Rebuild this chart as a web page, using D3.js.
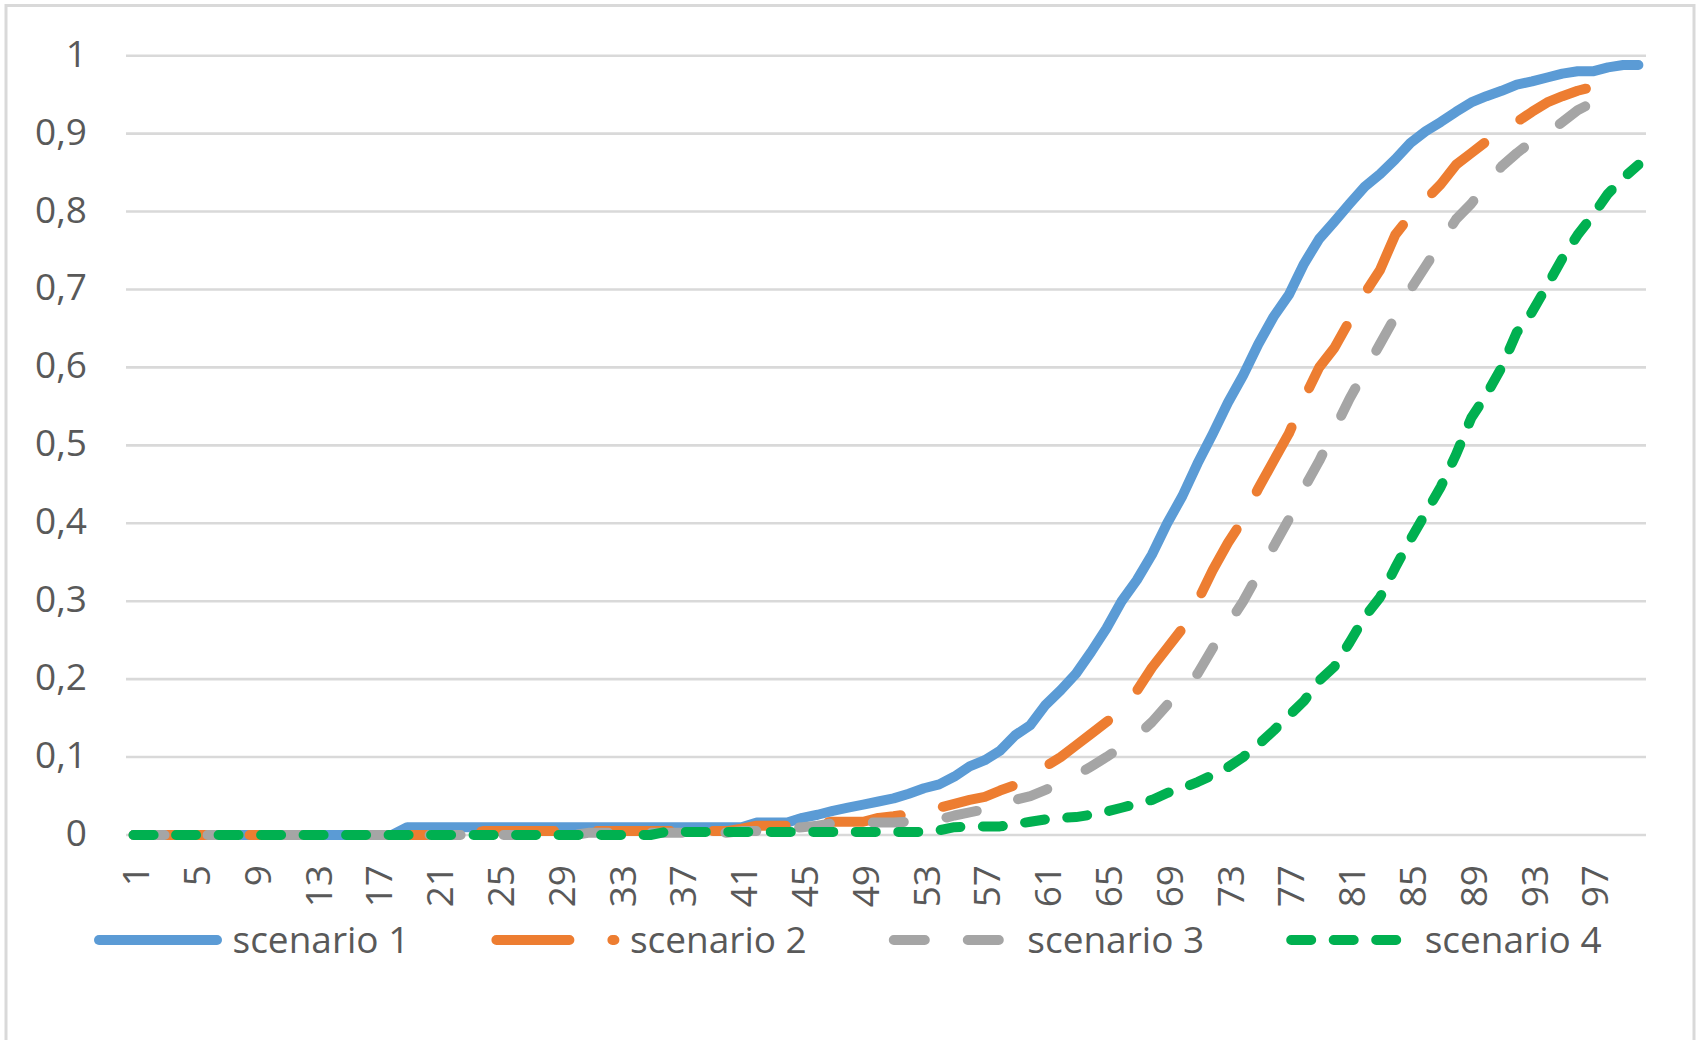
<!DOCTYPE html>
<html>
<head>
<meta charset="utf-8">
<script src="https://cdn.jsdelivr.net/npm/d3@7/dist/d3.min.js"></script>
<style>
  html, body { margin: 0; padding: 0; background: #fff; }
  svg { display: block; }
  text { font-family: "Open Sans", "Noto Sans", sans-serif; fill: #595959; }
</style>
</head>
<body>
<svg id="chart" width="1701" height="1040"></svg>
<script>
// ---- data ----
const categories = d3.range(1, 101);
const xTickLabels = [1,5,9,13,17,21,25,29,33,37,41,45,49,53,57,61,65,69,73,77,81,85,89,93,97];
const yTicks = [0,0.1,0.2,0.3,0.4,0.5,0.6,0.7,0.8,0.9,1];
const seriesNames = ["scenario 1", "scenario 2", "scenario 3", "scenario 4"];

const scenario1 = [
  0,0,0,0,0,0,0,0,0,0,0,0,0,0,0,0,0,0,
  0.01,0.01,0.01,0.01,0.01,0.01,0.01,0.01,0.01,0.01,0.01,0.01,0.01,0.01,0.01,0.01,0.01,0.01,0.01,0.01,0.01,0.01,0.01,
  0.016,0.016,0.016,0.022,
  0.026,0.031,0.035,0.039,0.043,0.047,0.053,0.06,0.065,0.075,
  0.088,0.096,0.108,0.128,0.141,0.167,0.186,0.207,0.235,0.265,
  0.3,0.327,0.36,0.4,0.435,0.477,0.515,0.555,0.59,0.63,
  0.665,0.693,0.733,0.765,0.787,0.81,0.832,0.848,0.867,0.888,
  0.903,0.915,0.928,0.94,0.948,0.955,0.963,0.967,0.972,0.977,
  0.98,0.98,0.985,0.988,0.988
];
const scenario2 = [
  0,0,0,0,0,0,0,0,0,0,0,0,0,0,0,0,0,0,0,0,0,0,0,
  0.005,0.005,0.005,0.005,0.005,0.005,0.005,0.005,0.005,0.005,0.005,0.005,0.005,0.005,0.005,0.005,0.005,
  0.008,0.012,0.012,0.012,0.012,0.015,0.017,0.017,0.017,
  0.022,0.024,0.027,0.03,0.035,0.04,0.045,0.049,0.057,0.064,
  0.075,0.088,0.1,0.115,0.13,0.145,0.16,0.185,0.215,0.24,
  0.265,0.3,0.34,0.375,0.405,0.445,0.48,0.515,0.56,0.6,
  0.625,0.66,0.695,0.725,0.77,0.795,0.815,0.835,0.86,0.875,
  0.89,0.902,0.915,0.928,0.94,0.948,0.955,0.96,0.967
];
const scenario3 = [
  0,0,0,0,0,0,0,0,0,0,0,0,0,0,0,0,0,0,0,0,0,0,0,0,0,0,0,0,0,0,
  0.003,0.003,0.003,0.003,0.003,0.003,0.003,0.003,0.003,0.003,
  0.005,0.005,0.005,0.008,0.01,0.012,0.015,0.016,0.016,0.016,0.016,
  0.017,0.018,0.02,0.025,0.029,0.033,0.04,0.045,0.05,0.058,
  0.066,0.076,0.088,0.1,0.113,0.127,0.145,0.167,0.185,0.207,
  0.24,0.27,0.3,0.335,0.37,0.405,0.445,0.48,0.52,0.56,
  0.595,0.63,0.665,0.7,0.73,0.76,0.79,0.81,0.835,0.858,
  0.875,0.89,0.9,0.915,0.93,0.94,0.95
];
const scenario4 = [
  0,0,0,0,0,0,0,0,0,0,0,0,0,0,0,0,0,0,0,0,0,0,0,0,0,0,0,0,0,0,0,0,0,0,0,
  0.004,0.004,0.004,0.004,0.004,0.004,0.004,0.004,0.004,0.004,0.004,0.004,0.004,0.004,0.004,0.004,0.004,0.004,
  0.006,0.01,0.011,0.011,0.011,0.014,0.017,0.02,0.022,0.023,
  0.026,0.03,0.035,0.04,0.045,0.054,0.06,0.068,0.077,0.087,
  0.1,0.116,0.134,0.153,0.172,0.198,0.216,0.247,0.28,0.305,
  0.343,0.379,0.413,0.447,0.488,0.535,0.565,0.6,0.645,0.671,
  0.705,0.74,0.77,0.795,0.823,0.843,0.86
];
const seriesValues = [scenario1, scenario2, scenario3, scenario4];
const seriesColors = ["#5B9BD5", "#ED7D31", "#A5A5A5", "#00B050"];
const seriesDash = [null, "73 43", "31 43", "20 22.5"];

// ---- layout ----
const svg = d3.select("#chart");
const plot = { left: 126, right: 1646, top: 55.7, bottom: 835 };
const strokeW = 10;

svg.append("rect").attr("x", 0).attr("y", 0).attr("width", 1701).attr("height", 1040).attr("fill", "#fff");
svg.append("rect").attr("x", 6).attr("y", 5.5).attr("width", 1688).attr("height", 1100)
  .attr("fill", "none").attr("stroke", "#d9d9d9").attr("stroke-width", 3);

const x = d3.scaleBand().domain(categories).range([plot.left, plot.right]).paddingInner(0).paddingOuter(0);
const xc = c => x(c) + x.bandwidth() / 2;
const y = d3.scaleLinear().domain([0, 1]).range([plot.bottom, plot.top]);

const fmt = v => d3.format(".1~f")(v).replace(".", ",");

// gridlines
svg.append("g").selectAll("line").data(yTicks).join("line")
  .attr("x1", plot.left).attr("x2", plot.right)
  .attr("y1", d => y(d)).attr("y2", d => y(d))
  .attr("stroke", "#d9d9d9").attr("stroke-width", 2.6);

// y labels
svg.append("g").selectAll("text").data(yTicks).join("text")
  .attr("x", 87).attr("y", d => y(d) + 11)
  .attr("text-anchor", "end").attr("font-size", 37)
  .text(d => fmt(d));

// x labels
svg.append("g").selectAll("text").data(xTickLabels).join("text")
  .attr("transform", d => `translate(${xc(d) + 15.5},865) rotate(-90)`)
  .attr("text-anchor", "end").attr("font-size", 37)
  .text(d => d);

// lines
const line = d3.line().x((d, i) => xc(categories[i])).y(d => y(d));
seriesValues.forEach((vals, k) => {
  svg.append("path").datum(vals)
    .attr("d", line)
    .attr("fill", "none")
    .attr("stroke", seriesColors[k])
    .attr("stroke-width", strokeW)
    .attr("stroke-linejoin", "round")
    .attr("stroke-linecap", "round")
    .attr("stroke-dasharray", seriesDash[k]);
});

// legend
const legY = 940;
const leg = svg.append("g").selectAll("g").data(seriesNames).join("g")
  .attr("transform", (d, i) => `translate(${94 + i * 397.4},0)`);
leg.append("line")
  .attr("x1", 5).attr("x2", 123).attr("y1", legY).attr("y2", legY)
  .attr("stroke", (d, i) => seriesColors[i])
  .attr("stroke-width", strokeW)
  .attr("stroke-linecap", "round")
  .attr("stroke-dasharray", (d, i) => seriesDash[i]);
leg.append("text")
  .attr("x", 138.5).attr("y", 953)
  .attr("font-size", 37)
  .text(d => d);
</script>
</body>
</html>
